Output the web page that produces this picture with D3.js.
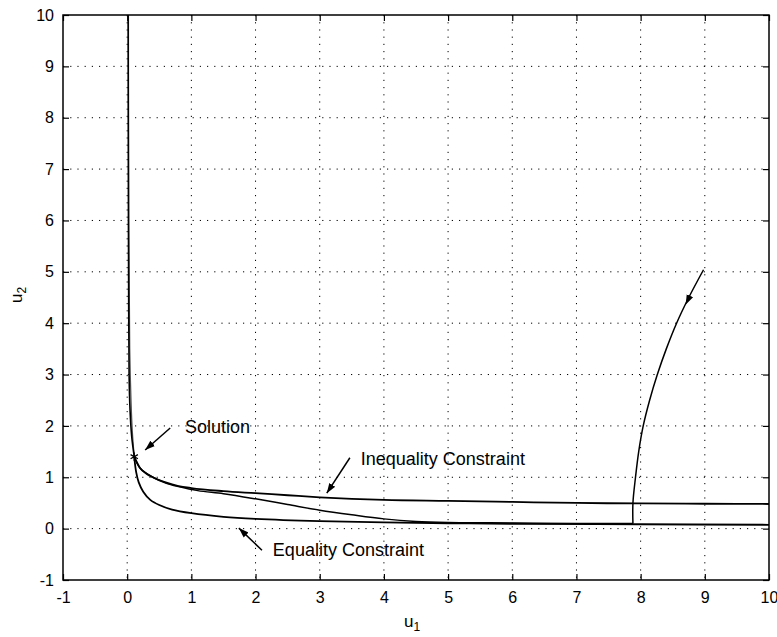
<!DOCTYPE html>
<html>
<head>
<meta charset="utf-8">
<script src="https://cdn.jsdelivr.net/npm/d3@7"></script>
<style>
  body { margin: 0; background: #fff; }
  svg { display: block; font-family: "Liberation Sans", Arial, sans-serif; }
  .grid line { stroke: #000; stroke-width: 1; stroke-dasharray: 1.2, 6; }
  .tick-label { font-size: 16px; fill: #000; }
  .note { font-size: 18px; fill: #000; }
</style>
</head>
<body>
<div id="chart"></div>
<script>
  // 轴刻度
  const xTicks = [-1, 0, 1, 2, 3, 4, 5, 6, 7, 8, 9, 10];
  const yTicks = [-1, 0, 1, 2, 3, 4, 5, 6, 7, 8, 9, 10];

  // 曲线数据
  const topBranchA = [[0.015, 10], [0.018, 7], [0.022, 5], [0.03, 3], [0.045, 2.3], [0.07, 1.8], [0.11, 1.4]];
  const topBranchB = [[0.02, 10], [0.025, 6], [0.04, 3.5], [0.06, 2.5], [0.08, 1.9], [0.11, 1.4]];
  const equality = [[0.11, 1.4], [0.14, 1.1], [0.18, 0.9], [0.25, 0.72], [0.36, 0.56], [0.5, 0.46],
    [0.7, 0.37], [1.0, 0.3], [1.5, 0.23], [2.0, 0.19], [3.0, 0.145], [4.0, 0.12], [5, 0.105],
    [6, 0.095], [8, 0.085], [10, 0.075]];
  const inequality = [[0.11, 1.4], [0.2, 1.18], [0.3, 1.07], [0.4, 1.0], [0.6, 0.9], [0.8, 0.83],
    [1.0, 0.79], [1.5, 0.73], [2.0, 0.69], [2.5, 0.65], [3.0, 0.61], [3.5, 0.58], [4.0, 0.56],
    [5, 0.54], [6, 0.52], [7, 0.5], [8, 0.49], [9, 0.485], [10, 0.48]];
  // 迭代轨迹：从解点沿下方走到 u1≈7.88，再竖直向上弯到 (9,5)
  const trajectoryLow = [[0.11, 1.4], [0.2, 1.18], [0.4, 1.0], [0.6, 0.89], [0.8, 0.82], [1.1, 0.74],
    [1.5, 0.68], [2.0, 0.58], [2.5, 0.47], [3.0, 0.36], [3.5, 0.27], [4.0, 0.19], [4.5, 0.14],
    [5, 0.12], [6, 0.11], [7, 0.1], [7.88, 0.1]];
  const trajectoryUp = [[7.88, 0.1], [7.88, 0.5], [7.92, 1.0], [7.97, 1.5], [8.04, 2.0],
    [8.14, 2.5], [8.26, 3.0], [8.40, 3.5], [8.56, 4.0], [8.75, 4.5], [8.98, 5.04]];
  const trajArrow = [[8.84, 4.72], [8.70, 4.36]];
  const solution = [0.11, 1.4];

  // 注释：文字位置与箭头（数据坐标）
  const notes = [
    { text: 'Solution', at: [0.9, 1.86], from: [0.67, 1.96], to: [0.28, 1.53] },
    { text: 'Inequality Constraint', at: [3.64, 1.24], from: [3.47, 1.38], to: [3.11, 0.69] },
    { text: 'Equality Constraint', at: [2.27, -0.53], from: [2.10, -0.42], to: [1.74, 0.01] }
  ];

  const W = 777, H = 637;
  const margin = { top: 15, right: 8, bottom: 57, left: 63 };
  const width = W - margin.left - margin.right;
  const height = H - margin.top - margin.bottom;

  const svg = d3.select('#chart').append('svg')
    .attr('width', W).attr('height', H);

  svg.append('defs').append('marker')
    .attr('id', 'head')
    .attr('viewBox', '0 0 10 10')
    .attr('refX', 10).attr('refY', 5)
    .attr('markerWidth', 10).attr('markerHeight', 10)
    .attr('markerUnits', 'userSpaceOnUse')
    .attr('orient', 'auto')
    .append('path').attr('d', 'M0,1.5 L10,5 L0,8.5 Z').attr('fill', '#000');

  const g = svg.append('g').attr('transform', `translate(${margin.left},${margin.top})`);

  const x = d3.scaleLinear().domain([-1, 10]).range([0, width]);
  const y = d3.scaleLinear().domain([-1, 10]).range([height, 0]);

  // 网格
  g.append('g').attr('class', 'grid')
    .selectAll('line').data(xTicks.slice(1, -1)).enter().append('line')
    .attr('x1', d => x(d)).attr('x2', d => x(d)).attr('y1', 0).attr('y2', height);
  g.append('g').attr('class', 'grid')
    .selectAll('line').data(yTicks.slice(1, -1)).enter().append('line')
    .attr('y1', d => y(d)).attr('y2', d => y(d)).attr('x1', 0).attr('x2', width);

  // 坐标轴（刻度朝内，负号用连字符）
  const tickLen = 6;
  const fmt = d => String(d);
  const xAxis = g.append('g').attr('transform', `translate(0,${height})`)
    .call(d3.axisBottom(x).tickValues(xTicks).tickFormat(fmt)
      .tickSizeInner(-tickLen).tickSizeOuter(0).tickPadding(tickLen + 6));
  const yAxis = g.append('g')
    .call(d3.axisLeft(y).tickValues(yTicks).tickFormat(fmt)
      .tickSizeInner(-tickLen).tickSizeOuter(0).tickPadding(tickLen + 3));
  g.append('g')
    .call(d3.axisTop(x).tickValues(xTicks).tickSizeInner(-tickLen).tickSizeOuter(0).tickFormat(''));
  g.append('g').attr('transform', `translate(${width},0)`)
    .call(d3.axisRight(y).tickValues(yTicks).tickSizeInner(-tickLen).tickSizeOuter(0).tickFormat(''));
  g.selectAll('.domain').remove();
  g.selectAll('.tick line').attr('stroke', '#000').attr('stroke-width', 1.2);
  g.selectAll('.tick text').attr('class', 'tick-label')
    .attr('font-family', null).attr('font-size', null);
  xAxis.selectAll('text').attr('dy', '0.71em');

  // 边框
  g.append('rect').attr('width', width).attr('height', height)
    .attr('fill', 'none').attr('stroke', '#000').attr('stroke-width', 1.5);

  // 曲线
  const line = d3.line().x(d => x(d[0])).y(d => y(d[1])).curve(d3.curveMonotoneX);
  const lineXY = d3.line().x(d => x(d[0])).y(d => y(d[1])).curve(d3.curveCatmullRom.alpha(0.5));
  const straight = d3.line().x(d => x(d[0])).y(d => y(d[1]));
  g.append('path').datum(topBranchB).attr('d', lineXY)
    .attr('fill', 'none').attr('stroke', '#555').attr('stroke-width', 1.2);
  g.append('path').datum(topBranchA).attr('d', lineXY)
    .attr('fill', 'none').attr('stroke', '#000').attr('stroke-width', 1.6);
  g.append('path').datum(equality).attr('d', lineXY)
    .attr('fill', 'none').attr('stroke', '#000').attr('stroke-width', 1.8);
  g.append('path').datum(inequality).attr('d', line)
    .attr('fill', 'none').attr('stroke', '#000').attr('stroke-width', 1.8);
  g.append('path').datum(trajectoryLow).attr('d', lineXY)
    .attr('fill', 'none').attr('stroke', '#000').attr('stroke-width', 1.5);
  g.append('path').datum(trajectoryUp).attr('d', lineXY)
    .attr('fill', 'none').attr('stroke', '#000').attr('stroke-width', 1.5);
  g.append('path').datum(trajArrow).attr('d', straight)
    .attr('fill', 'none').attr('stroke', 'none').attr('marker-end', 'url(#head)');

  // 解点（星号）
  g.append('path')
    .attr('d', d3.symbol(d3.symbolAsterisk || d3.symbolCross, 50)())
    .attr('transform', `translate(${x(solution[0])},${y(solution[1])})`)
    .attr('fill', 'none').attr('stroke', '#000').attr('stroke-width', 1.2);

  // 注释
  notes.forEach(n => {
    g.append('text').attr('class', 'note')
      .attr('x', x(n.at[0])).attr('y', y(n.at[1])).text(n.text);
    g.append('line')
      .attr('x1', x(n.from[0])).attr('y1', y(n.from[1]))
      .attr('x2', x(n.to[0])).attr('y2', y(n.to[1]))
      .attr('stroke', '#000').attr('stroke-width', 1.5)
      .attr('marker-end', 'url(#head)');
  });

  // 轴标题
  const xl = svg.append('text').attr('class', 'tick-label')
    .attr('x', 404).attr('y', 627).style('font-size', '17px');
  xl.append('tspan').text('u');
  xl.append('tspan').attr('dy', 4).style('font-size', '12px').text('1');

  const yl = svg.append('text').attr('class', 'tick-label')
    .attr('transform', 'translate(22,303) rotate(-90)').style('font-size', '17px');
  yl.append('tspan').text('u');
  yl.append('tspan').attr('dy', 4).style('font-size', '12px').text('2');
</script>
</body>
</html>
